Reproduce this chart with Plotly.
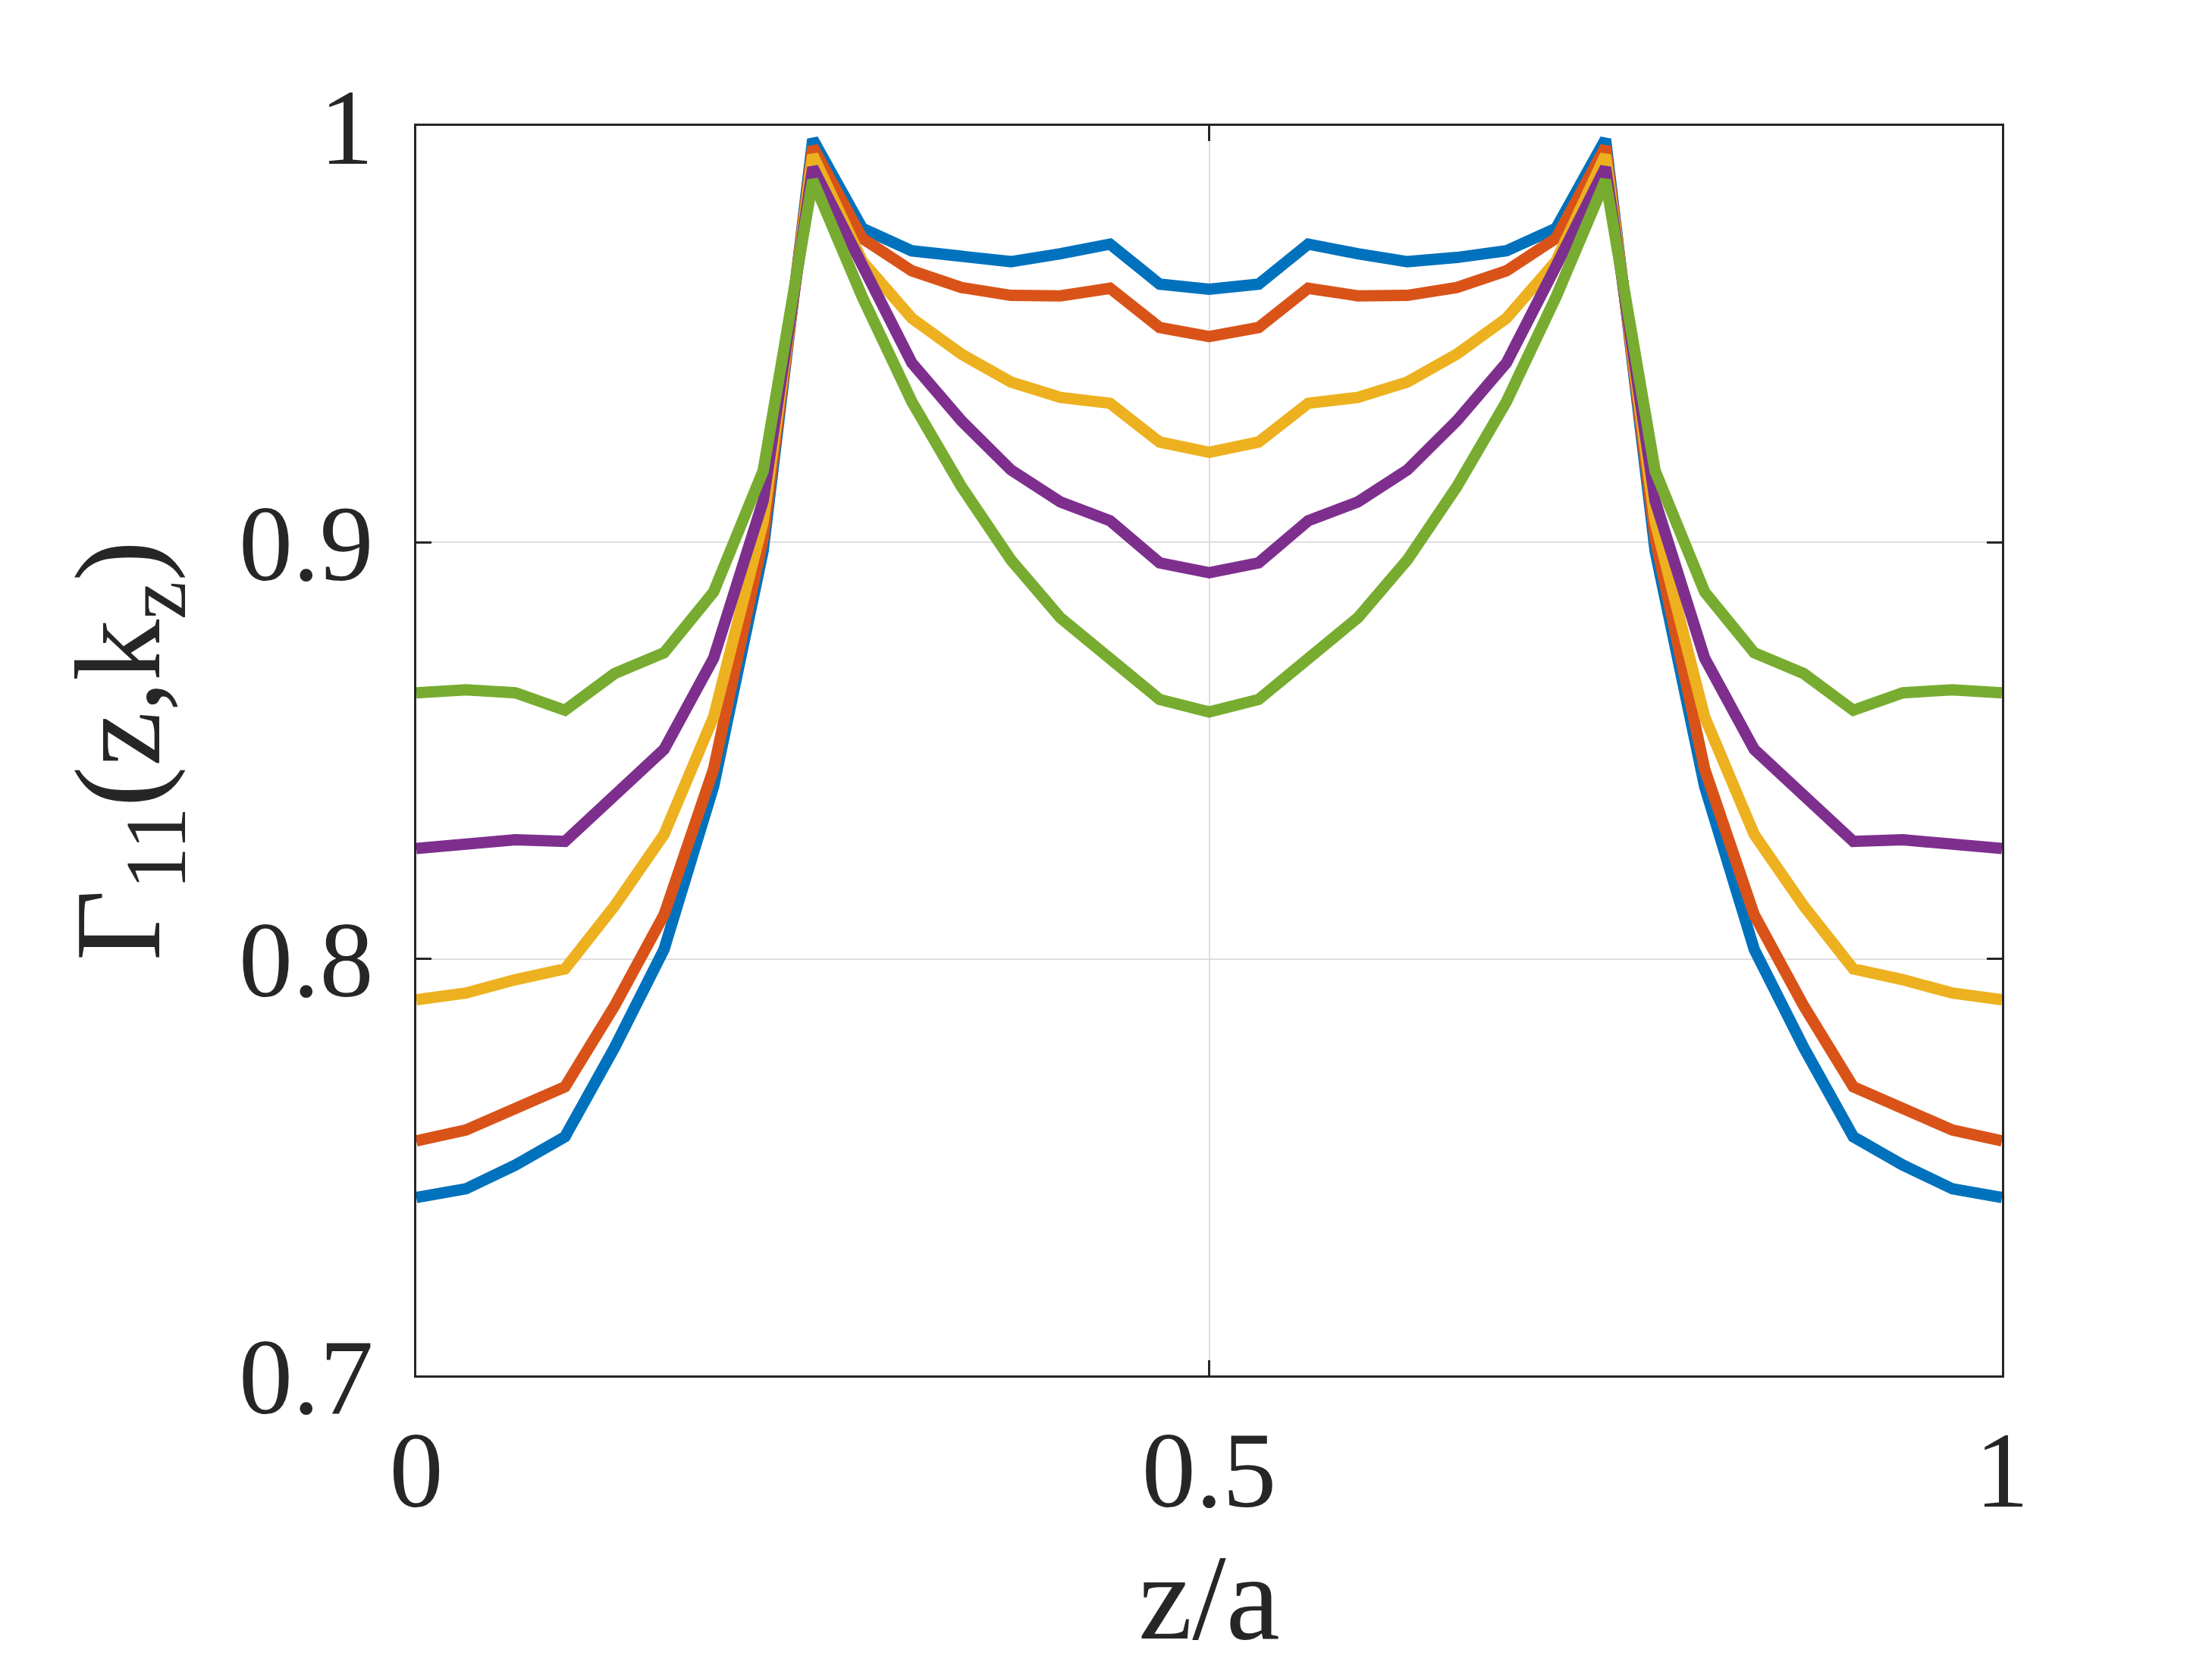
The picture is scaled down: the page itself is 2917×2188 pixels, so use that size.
import plotly.graph_objects as go

z_over_a = [0.0, 0.03125, 0.0625, 0.09375, 0.125, 0.15625, 0.1875, 0.21875, 0.25,
            0.28125, 0.3125, 0.34375, 0.375, 0.40625, 0.4375, 0.46875, 0.5,
            0.53125, 0.5625, 0.59375, 0.625, 0.65625, 0.6875, 0.71875, 0.75,
            0.78125, 0.8125, 0.84375, 0.875, 0.90625, 0.9375, 0.96875, 1.0]

gamma_blue = [0.7427, 0.7448, 0.7505, 0.7573, 0.7787, 0.8023, 0.8414, 0.898, 0.9968,
              0.9754, 0.970, 0.9684, 0.9674, 0.9693, 0.9716, 0.962, 0.9608,
              0.962, 0.9716, 0.9693, 0.9674, 0.9684, 0.970, 0.9754, 0.9968,
              0.898, 0.8414, 0.8023, 0.7787, 0.7573, 0.7505, 0.7448, 0.7427]
gamma_red = [0.7563, 0.7589, 0.7641, 0.7693, 0.7887, 0.8106, 0.8456, 0.901, 0.995,
             0.973, 0.9652, 0.9612, 0.9593, 0.9592, 0.961, 0.9516, 0.9494,
             0.9516, 0.961, 0.9592, 0.9593, 0.9612, 0.9652, 0.973, 0.995,
             0.901, 0.8456, 0.8106, 0.7887, 0.7693, 0.7641, 0.7589, 0.7563]
gamma_yellow = [0.7902, 0.7918, 0.795, 0.7976, 0.8127, 0.8299, 0.8581, 0.905, 0.993,
                0.9675, 0.9538, 0.9452, 0.9385, 0.9348, 0.9334, 0.9241, 0.9216,
                0.9241, 0.9334, 0.9348, 0.9385, 0.9452, 0.9538, 0.9675, 0.993,
                0.905, 0.8581, 0.8299, 0.8127, 0.7976, 0.795, 0.7918, 0.7902]
gamma_purple = [0.8265, 0.8273, 0.8286, 0.8282, 0.8393, 0.8503, 0.8722, 0.910, 0.990,
                0.9663, 0.9431, 0.9292, 0.9174, 0.9097, 0.9052, 0.8951, 0.8927,
                0.8951, 0.9052, 0.9097, 0.9174, 0.9292, 0.9431, 0.9663, 0.990,
                0.910, 0.8722, 0.8503, 0.8393, 0.8282, 0.8286, 0.8273, 0.8265]
gamma_green = [0.8639, 0.8646, 0.8639, 0.8597, 0.8685, 0.8735, 0.8881, 0.9172, 0.987,
               0.9589, 0.9338, 0.9134, 0.8958, 0.8819, 0.8721, 0.8623, 0.8593,
               0.8623, 0.8721, 0.8819, 0.8958, 0.9134, 0.9338, 0.9589, 0.987,
               0.9172, 0.8881, 0.8735, 0.8685, 0.8597, 0.8639, 0.8646, 0.8639]

series = [gamma_blue, gamma_red, gamma_yellow, gamma_purple, gamma_green]
colors = ["#0072BD", "#D95319", "#EDB120", "#7E2F8E", "#77AC30"]

x_ticks = [0, 0.5, 1]
x_ticktext = ["0", "0.5", "1"]
y_ticks = [0.7, 0.8, 0.9, 1.0]
y_ticktext = ["0.7", "0.8", "0.9", "1"]

fig = go.Figure()
for ys, c in zip(series, colors):
    fig.add_trace(go.Scatter(x=z_over_a, y=ys, mode="lines",
                             line=dict(color=c, width=15), showlegend=False))

font_color = "#262626"
fig.update_layout(
    width=2917, height=2188,
    margin=dict(l=541, r=285, t=158, b=382),
    paper_bgcolor="white", plot_bgcolor="white",
    font=dict(family="Liberation Serif, Times New Roman, serif", color=font_color, size=142),
)
fig.update_xaxes(
    range=[0, 1], tickvals=x_ticks, ticktext=x_ticktext,
    showgrid=True, gridcolor="#dedede", gridwidth=2,
    showline=True, linecolor=font_color, linewidth=3, mirror="allticks",
    ticks="inside", ticklen=20, tickwidth=3, tickcolor=font_color,
    ticklabelstandoff=0, zeroline=False,
    title=dict(text="z/a", font=dict(size=160), standoff=45),
    automargin=False,
)
fig.update_yaxes(
    range=[0.7, 1.0], tickvals=y_ticks, ticktext=y_ticktext,
    showgrid=True, gridcolor="#dedede", gridwidth=2,
    showline=True, linecolor=font_color, linewidth=3, mirror="allticks",
    ticks="inside", ticklen=20, tickwidth=3, tickcolor=font_color,
    ticklabelstandoff=25, zeroline=False,
    title=dict(text="Γ<sub>11</sub>(z,k<sub>z</sub>)", font=dict(size=162), standoff=50),
    automargin=False,
)

fig.write_html("out.html")
